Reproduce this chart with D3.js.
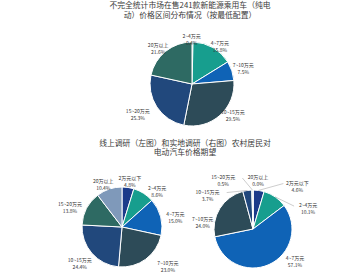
<!DOCTYPE html>
<html>
<head>
<meta charset="utf-8">
<script src="https://cdn.jsdelivr.net/npm/d3@7"></script>
<style>
  body { margin: 0; background: #fff; }
  text { font-family: "Noto Sans CJK SC", "Noto Sans", sans-serif; fill: #333; }
</style>
</head>
<body>
<div id="chart"></div>
<script>
// price ranges and shares (%)
var marketCats = ['2~4万元', '4~7万元', '7~10万元', '10~15万元', '15~20万元', '20万以上'];
var marketVals = [0.4, 15.8, 7.5, 29.5, 25.3, 21.6];

var surveyCats = ['2万元以下', '2~4万元', '4~7万元', '7~10万元', '10~15万元', '15~20万元', '20万以上'];
var onlineVals = [4.8, 8.6, 15.0, 23.0, 24.4, 13.8, 10.4];
var fieldVals = [4.6, 10.1, 57.1, 24.0, 3.7, 0.5, 0.0];

var topTitle = ['不完全统计市场在售241款新能源乘用车（纯电', '动）价格区间分布情况（按最低配置）'];
var midTitle = ['线上调研（左图）和实地调研（右图）农村居民对', '电动汽车价格期望'];

var width = 350, height = 275;

var color = d3.scaleOrdinal()
  .domain(d3.range(7))
  .range(['#1c3b8a', '#179e8e', '#0f63b6', '#2d4b58', '#21487c', '#2e6a63', '#7f99ba']);

var svg = d3.select('#chart')
  .append('svg')
  .attr('width', width)
  .attr('height', height);

function title(lines, cx, y0) {
  svg.selectAll(null)
     .data(lines)
     .enter()
     .append('text')
     .attr('x', cx)
     .attr('y', function(d, i) { return y0 + i * 9.5; })
     .attr('text-anchor', 'middle')
     .attr('dominant-baseline', 'central')
     .style('font-size', '7.8px')
     .style('fill', '#3a3a3a')
     .text(function(d) { return d; });
}

title(topTitle, 190, 4.8);
title(midTitle, 185, 142);

// label layout: nudge from the centroid at radius r + 12, leaders for crowded labels
function drawPie(cats, vals, cx, cy, r, nudges, leaders) {
  var pie = d3.pie().sort(null).value(function(d) { return d.v; });
  var arcs = pie(cats.map(function(c, i) { return {cat: c, v: vals[i], i: i}; }));

  var arc = d3.arc().innerRadius(0).outerRadius(r);
  var labelArc = d3.arc().innerRadius(r + 12).outerRadius(r + 12);
  var edgeArc = d3.arc().innerRadius(r).outerRadius(r);

  var g = svg.append('g').attr('transform', 'translate(' + cx + ',' + cy + ')');

  g.selectAll('path')
   .data(arcs)
   .enter()
   .append('path')
   .attr('d', arc)
   .attr('fill', function(d) { return color(d.data.i); })
   .attr('stroke', '#fff')
   .attr('stroke-width', 1);

  var labels = g.selectAll('.lbl')
    .data(arcs)
    .enter()
    .append('g')
    .attr('class', 'lbl')
    .attr('transform', function(d, i) {
      var p = labelArc.centroid(d);
      return 'translate(' + (p[0] + nudges[i][0]) + ',' + (p[1] + nudges[i][1]) + ')';
    });

  labels.append('text')
    .attr('y', -3.5)
    .attr('text-anchor', 'middle')
    .attr('dominant-baseline', 'central')
    .style('font-size', '5px')
    .text(function(d) { return d.data.cat; });

  labels.append('text')
    .attr('y', 3.5)
    .attr('text-anchor', 'middle')
    .attr('dominant-baseline', 'central')
    .style('font-size', '5px')
    .text(function(d) { return d3.format('.1f')(d.data.v) + '%'; });

  arcs.forEach(function(d, i) {
    if (leaders.indexOf(i) < 0) return;
    var e = edgeArc.centroid(d),
        p = labelArc.centroid(d),
        lx = p[0] + nudges[i][0],
        ly = p[1] + nudges[i][1],
        half = d.data.cat.length * 2.6 + 1,
        ex = lx > e[0] ? lx - half : lx + half;
    g.append('line')
     .attr('x1', e[0]).attr('y1', e[1])
     .attr('x2', ex).attr('y2', ly - 2)
     .attr('stroke', '#9a9a9a')
     .attr('stroke-width', 0.5);
  });
}

drawPie(marketCats, marketVals, 192, 84, 42,
  [[-1, 9], [1, 9], [0, 1], [5, -9], [-9, 0], [0, 6]], []);

drawPie(surveyCats, onlineVals, 122, 227, 40,
  [[0, 5], [7, 8], [3, 3], [15, -3], [-3, 2], [-6, 4], [-2, 6]], []);

drawPie(surveyCats, fieldVals, 253, 229, 39,
  [[37, 7], [26, 21], [21, -14], [-7, 20], [-38, 16], [-29, 2], [5, 2]], [0, 1, 4, 5]);
</script>
</body>
</html>
